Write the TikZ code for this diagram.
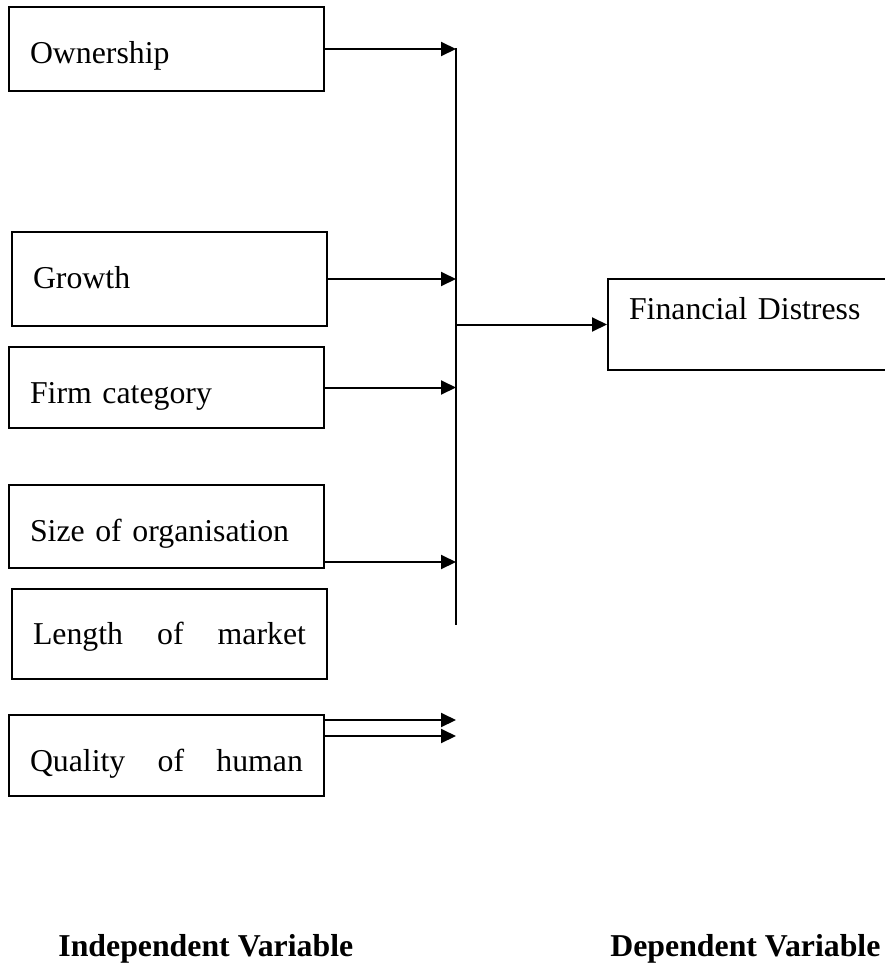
\documentclass[tikz,border=0pt]{standalone}
\usepackage{fontspec}
\setmainfont{Liberation Serif}
\usepackage{tikz}
\usetikzlibrary{positioning, arrows.meta}

\newcommand{\boxfont}{\fontsize{15.9}{19}\selectfont}

\tikzset{
  varbox/.style={draw, line width=1pt, anchor=north west, inner xsep=10.5pt,
    inner ysep=0pt, text height=28pt, text width=136.5pt, align=left, font=\boxfont},
  link/.style={-{Triangle[length=7.5pt, width=7pt]}, line width=1pt},
  heading/.style={anchor=base west, inner sep=0pt, font=\boxfont\bfseries}
}

\begin{document}
\begin{tikzpicture}[x=0.5pt, y=-0.5pt]

\useasboundingbox (0,0) rectangle (884,964);

% Independent variables
\node[varbox, text depth=14pt] (own) at (8,6) {Ownership};
\node[varbox, text depth=19pt] (grow) at (11,231) {Growth};
\node[varbox, text depth=12.5pt] (firm) at (8,346) {Firm category};
\node[varbox, text depth=13.5pt] (size) at (8,484) {Size of organisation};
\node[varbox, text depth=17.5pt, text height=27.5pt] (len) at (11,588) {Length \hfill of \hfill market};
\node[varbox, text depth=12.5pt] (qual) at (8,714) {Quality \hfill of \hfill human};

% Dependent variable
\node[varbox, text height=20pt, text depth=25.5pt, text width=125pt] (fd) at (607,278) {Financial Distress};

% Collecting line
\coordinate (bustop) at (456,48);
\coordinate (busend) at (456,625);
\draw[line width=1pt] (bustop) -- (busend);

% Arrows into the line
\coordinate (sizeout) at ([yshift=3.5pt]size.south east);
\coordinate (qualouta) at ([yshift=-3pt]qual.north east);
\coordinate (qualoutb) at ([yshift=-11pt]qual.north east);
\draw[link] (own.east) -- (own.east -| bustop);
\draw[link] (grow.east) -- (grow.east -| bustop);
\draw[link] (firm.east) -- (firm.east -| bustop);
\draw[link] (sizeout) -- (sizeout -| bustop);
\draw[link] (qualouta) -- (qualouta -| bustop);
\draw[link] (qualoutb) -- (qualoutb -| bustop);

% Arrow to the dependent variable
\draw[link] (fd.west -| bustop) -- (fd.west);

% Headings
\node[heading] (indep) at (58,956) {Independent Variable};
\node[heading] (dep) at (610,956) {Dependent Variable};

\end{tikzpicture}
\end{document}
